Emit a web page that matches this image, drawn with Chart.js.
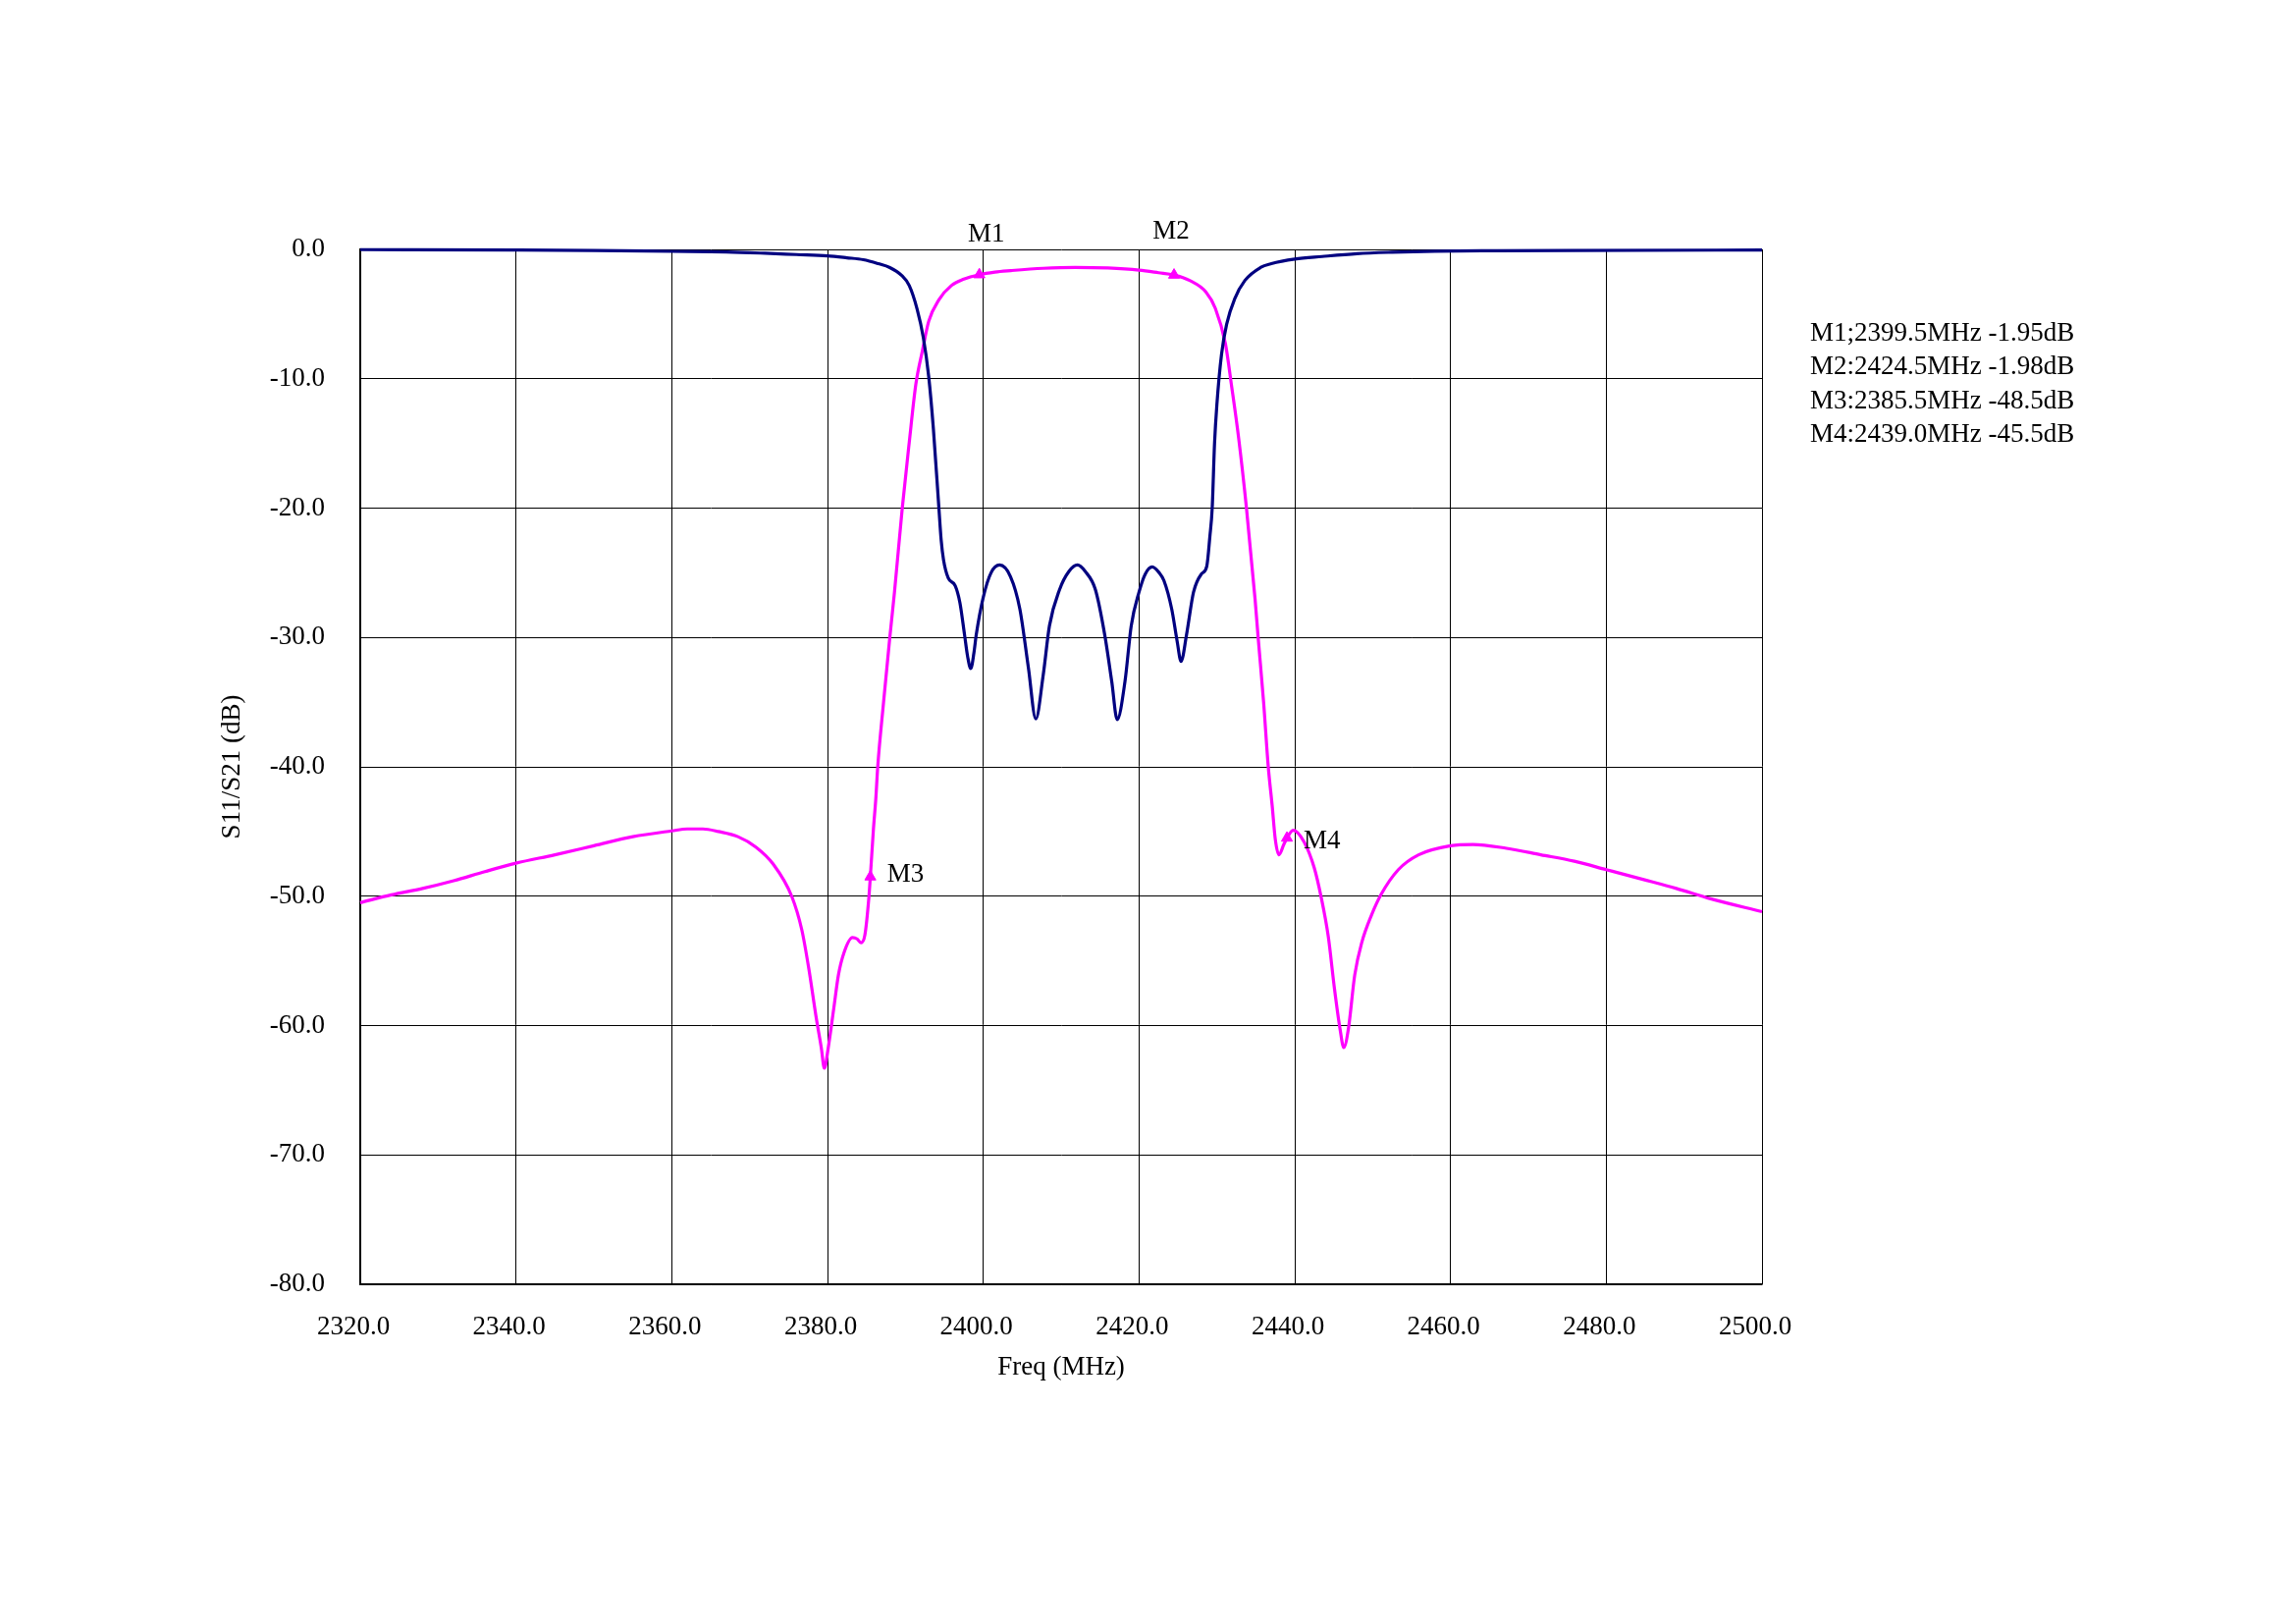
<!DOCTYPE html>
<html>
<head>
<meta charset="utf-8">
<title>S11/S21</title>
<script src="https://cdn.jsdelivr.net/npm/chart.js@4.4.0/dist/chart.umd.min.js"></script>
<style>
	html, body { margin: 0; padding: 0; background: #fff; }
	#wrap { width: 2339px; height: 1654px; }
</style>
</head>
<body>
<div id="wrap"><canvas id="filter-chart" width="2339" height="1654"></canvas></div>
<script>
// S11 (return loss)
var freqS11 = [2320, 2340, 2350, 2360, 2367, 2372, 2376, 2380, 2382.5, 2384.6, 2386.5, 2388, 2389.5, 2390.5, 2391.5, 2392.3, 2393.0, 2393.6, 2394.3, 2394.6, 2394.9, 2395.5, 2396.4, 2397.0, 2397.6, 2398.0, 2398.4, 2398.8, 2399.1, 2400, 2401, 2402.1, 2403.5, 2404.7, 2405.8, 2406.75, 2407.7, 2408.5, 2409.8, 2411.0, 2412.1, 2413.1, 2414.4, 2415.6, 2416.5, 2417.2, 2418.2, 2419.0, 2420, 2420.8, 2421.7, 2422.6, 2423.2, 2424.2, 2424.9, 2425.4, 2426.1, 2427.0, 2428.0, 2428.7, 2429.1, 2429.4, 2429.7, 2430.0, 2430.6, 2431.25, 2432.3, 2433.6, 2435.6, 2437, 2440, 2443.5, 2448, 2452.5, 2458, 2466, 2475, 2500];
var s11 = [-0.02, -0.05, -0.08, -0.15, -0.2, -0.3, -0.4, -0.5, -0.65, -0.8, -1.1, -1.4, -2.0, -2.8, -4.6, -6.8, -9.85, -13.9, -19.95, -22.5, -24.0, -25.4, -26.0, -27.3, -29.8, -31.5, -32.4, -31.2, -29.8, -26.9, -25.0, -24.4, -25.3, -27.8, -32.35, -36.3, -32.9, -29.1, -26.3, -24.9, -24.4, -24.9, -26.3, -29.8, -33.4, -36.35, -33.4, -29.1, -26.5, -25.1, -24.55, -25.0, -25.6, -27.8, -30.3, -31.85, -29.8, -26.5, -25.1, -24.5, -22.2, -20.0, -15.0, -12.0, -8.1, -5.8, -3.8, -2.4, -1.4, -1.1, -0.75, -0.55, -0.33, -0.22, -0.14, -0.1, -0.08, -0.05];

// S21 (insertion loss)
var freqS21 = [2320, 2324, 2328, 2332, 2336, 2340, 2345, 2350, 2355, 2360, 2362, 2364, 2366, 2368.5, 2370.8, 2373, 2375.4, 2376.7, 2377.6, 2378.5, 2379.2, 2379.6, 2380.1, 2380.8, 2381.4, 2382.1, 2383.2, 2383.8, 2384.3, 2384.8, 2385.3, 2385.5, 2385.9, 2386.2, 2386.45, 2387.2, 2388.0, 2388.6, 2389.6, 2390.5, 2391.35, 2392.2, 2393.0, 2394.3, 2395.9, 2397.5, 2399.5, 2401.5, 2403.5, 2407.7, 2411.8, 2416, 2420, 2422.5, 2424.5, 2426.5, 2428.6, 2429.8, 2431.1, 2431.9, 2432.8, 2433.8, 2434.9, 2435.3, 2436.0, 2436.6, 2437.1, 2437.5, 2437.96, 2438.6, 2439.0, 2439.8, 2441.2, 2442.5, 2443.4, 2444.3, 2445.1, 2445.8, 2446.3, 2446.9, 2447.7, 2448.6, 2449.9, 2451.1, 2453.3, 2455.9, 2460, 2462.9, 2467.2, 2471.6, 2475.9, 2480, 2484.7, 2489, 2493.4, 2500];
var s21 = [-50.5, -49.9, -49.4, -48.8, -48.1, -47.45, -46.8, -46.1, -45.4, -44.95, -44.8, -44.8, -45.0, -45.4, -46.2, -47.5, -50.0, -52.6, -55.6, -59.2, -61.7, -63.3, -61.7, -58.7, -56.1, -54.4, -53.2, -53.3, -53.6, -53.0, -50.2, -48.5, -44.8, -42.5, -40.0, -35.0, -30.0, -26.5, -20.0, -14.9, -10.4, -7.8, -5.55, -3.9, -2.8, -2.3, -1.95, -1.75, -1.64, -1.46, -1.39, -1.44, -1.6, -1.8, -1.98, -2.4, -3.3, -4.55, -7.3, -10.6, -14.6, -20.0, -27.0, -30.0, -35.0, -40.0, -43.0, -45.6, -46.8, -46.0, -45.5, -44.9, -45.8, -47.8, -50.1, -53.1, -57.15, -60.2, -61.7, -60.2, -56.1, -53.6, -51.4, -49.85, -47.95, -46.8, -46.1, -46.0, -46.3, -46.8, -47.3, -47.95, -48.7, -49.4, -50.2, -51.2];

// markers
var markerNames = ['M1', 'M2', 'M3', 'M4'];
var markerFreq = [2399.5, 2424.5, 2385.5, 2439.0];
var markerDb = [-1.95, -1.98, -48.5, -45.5];
var markerText = ['M1;2399.5MHz -1.95dB', 'M2:2424.5MHz -1.98dB', 'M3:2385.5MHz -48.5dB', 'M4:2439.0MHz -45.5dB'];

// axes
var xTicks = [2320, 2340, 2360, 2380, 2400, 2420, 2440, 2460, 2480, 2500];
var yTicks = [0, -10, -20, -30, -40, -50, -60, -70, -80];

var fontFamily = '"Liberation Serif", "Times New Roman", serif';
var fontSize = 27;

var toPoints = function(xs, ys) {
	return xs.map(function(v, i) { return { x: v, y: ys[i] }; });
};

var markerLabels = {
	id: 'markerLabels',
	afterDatasetsDraw: function(chart) {
		var ctx = chart.ctx, sx = chart.scales.x, sy = chart.scales.y;
		// label offsets as placed by the analyzer
		var dx = [7, -3, 17, 17], dy = [-41, -44, -2, 3];
		ctx.save();
		ctx.font = fontSize + 'px ' + fontFamily;
		ctx.fillStyle = '#000';
		ctx.textBaseline = 'middle';
		markerNames.forEach(function(name, i) {
			var px = sx.getPixelForValue(markerFreq[i]);
			var py = sy.getPixelForValue(markerDb[i]);
			ctx.textAlign = markerDb[i] > -10 ? 'center' : 'left';
			ctx.fillText(name, px + dx[i], py + dy[i]);
		});
		// marker readout on the right
		ctx.textAlign = 'left';
		markerText.forEach(function(t, i) {
			ctx.fillText(t, sx.right + 49, chart.chartArea.top + 86 + i * 34.3);
		});
		ctx.restore();
	}
};

var ctx = document.getElementById('filter-chart').getContext('2d');
var filterChart = new Chart(ctx, {
	type: 'line',
	data: {
		datasets: [{
			label: 'Markers',
			data: toPoints(markerFreq, markerDb),
			showLine: false,
			pointStyle: 'triangle',
			pointRadius: 6.5,
			pointBackgroundColor: '#FF00FF',
			pointBorderColor: '#FF00FF',
			pointBorderWidth: 1,
			clip: false
		}, {
			label: 'S11',
			data: toPoints(freqS11, s11),
			borderColor: '#000080',
			borderWidth: 3.2,
			pointRadius: 0,
			cubicInterpolationMode: 'monotone',
			clip: false
		}, {
			label: 'S21',
			data: toPoints(freqS21, s21),
			borderColor: '#FF00FF',
			borderWidth: 3.2,
			pointRadius: 0,
			cubicInterpolationMode: 'monotone',
			clip: false
		}]
	},
	options: {
		responsive: false,
		animation: false,
		devicePixelRatio: 1,
		layout: { padding: { left: 0, top: 254, right: 544, bottom: 0 } },
		plugins: {
			legend: { display: false },
			tooltip: { enabled: false }
		},
		scales: {
			x: {
				type: 'linear',
				min: 2320,
				max: 2500,
				afterBuildTicks: function(scale) {
					scale.ticks = xTicks.map(function(v) { return { value: v }; });
				},
				afterFit: function(scale) { scale.height = 346; },
				ticks: {
					color: '#000',
					font: { family: fontFamily, size: fontSize },
					padding: 28,
					labelOffset: -7,
					maxRotation: 0,
					callback: function(v) { return v.toFixed(1); }
				},
				grid: { color: '#000', lineWidth: 1, drawTicks: false },
				border: { display: true, color: '#000', width: 1.5 },
				title: {
					display: true,
					text: 'Freq (MHz)',
					color: '#000',
					font: { family: fontFamily, size: fontSize },
					padding: { top: 0, bottom: 245 }
				}
			},
			y: {
				type: 'linear',
				min: -80,
				max: 0,
				afterBuildTicks: function(scale) {
					scale.ticks = yTicks.map(function(v) { return { value: v }; });
				},
				afterFit: function(scale) { scale.width = 367; },
				ticks: {
					color: '#000',
					font: { family: fontFamily, size: fontSize },
					padding: 36,
					callback: function(v) { return v.toFixed(1); }
				},
				grid: { color: '#000', lineWidth: 1, drawTicks: false },
				border: { display: true, color: '#000', width: 1.5 },
				title: {
					display: true,
					text: 'S11/S21 (dB)',
					color: '#000',
					font: { family: fontFamily, size: fontSize },
					padding: { top: 221, bottom: 0 }
				}
			}
		}
	},
	plugins: [markerLabels]
});
</script>
</body>
</html>
